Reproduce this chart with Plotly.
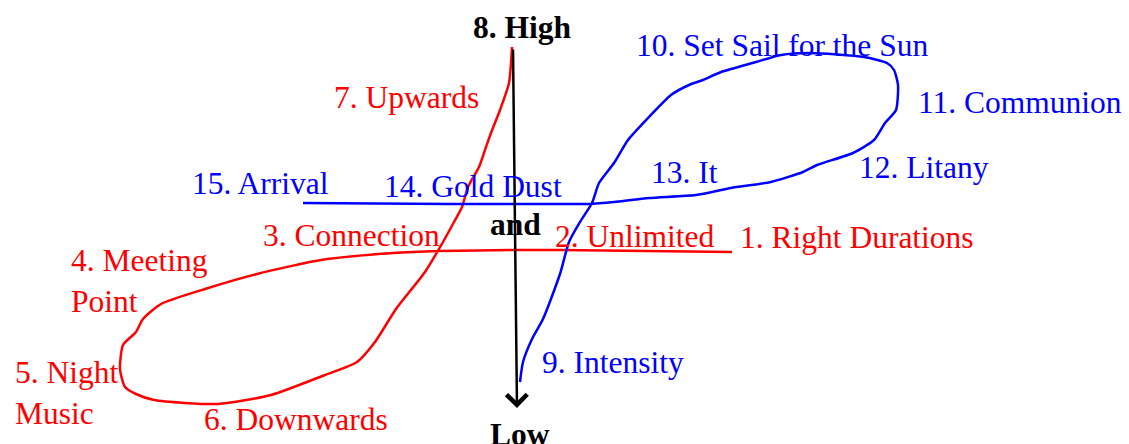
import plotly.graph_objects as go

# Canvas size of the sketch (pixels)
W, H = 1129, 444

# Red path: 1. Right Durations -> loop -> up to 8. High
red_x = [732, 560, 515, 439, 393, 321, 257, 205, 161, 143, 136, 123, 120, 125, 136, 154,
         218, 271, 325, 357, 375, 396, 425, 443, 454, 462, 468, 479, 486, 491, 500, 509, 512]
red_y = [252, 250, 250, 251, 253, 260, 274, 289, 304, 319, 332, 345, 369, 387, 394, 400,
         404, 395, 375, 362, 342, 309, 272, 242, 222, 207, 187, 167, 147, 133, 110, 83, 47]

# Blue path: 9. Intensity -> loop -> 15. Arrival
blue_x = [520, 523, 532, 543, 560, 569, 580, 592, 599, 614, 628, 649, 671, 689, 703, 721,
          756, 781, 810, 864, 887, 894, 898, 896, 885, 874, 853, 817, 803, 771, 731, 696,
          649, 614, 589, 560, 450, 303]
blue_y = [382, 362, 339, 319, 274, 242, 222, 203, 183, 163, 140, 117, 95, 85, 80, 72,
          62, 55, 53, 57, 63, 70, 85, 110, 123, 140, 153, 165, 172, 182, 188, 195,
          198, 202, 204, 204, 204, 203]

# High -> Low axis
axis_x = [513, 517]
axis_y = [48, 408]

red_labels = ["1. Right Durations", "2. Unlimited", "3. Connection", "4. Meeting<br>Point",
              "5. Night<br>Music", "6. Downwards", "7. Upwards"]
red_lx = [738, 553, 261, 69, 13, 202, 332]
red_ly = [237, 236, 235, 281, 393, 419, 97]

blue_labels = ["9. Intensity", "10. Set Sail for the Sun", "11. Communion", "12. Litany",
               "13. It", "14. Gold Dust", "15. Arrival"]
blue_lx = [540, 634, 916, 857, 649, 382, 190]
blue_ly = [362, 45, 102, 167, 172, 186, 183]

black_labels = ["8. High", "and", "Low"]
black_lx = [522, 515, 520]
black_ly = [27, 224, 434]

RED = "#ff0000"
BLUE = "#0000ff"
FONT = "Liberation Serif"
FS = 31.5

fig = go.Figure()

fig.add_trace(go.Scatter(x=red_x, y=red_y, mode="lines",
                         line=dict(color=RED, width=2.5, shape="spline", smoothing=0.6),
                         hoverinfo="skip"))
fig.add_trace(go.Scatter(x=blue_x, y=blue_y, mode="lines",
                         line=dict(color=BLUE, width=2.5, shape="spline", smoothing=0.6),
                         hoverinfo="skip"))

# vertical arrow
fig.add_annotation(x=axis_x[1], y=axis_y[1], ax=axis_x[0], ay=axis_y[0],
                   xref="x", yref="y", axref="x", ayref="y", text="",
                   showarrow=True, arrowhead=4, arrowsize=1.6, arrowwidth=2.5,
                   arrowcolor="black")

for txt, x, y in zip(red_labels, red_lx, red_ly):
    fig.add_annotation(x=x, y=y, text=txt, showarrow=False, xanchor="left", yanchor="middle",
                       align="left", font=dict(family=FONT, size=FS, color=RED))
for txt, x, y in zip(blue_labels, blue_lx, blue_ly):
    fig.add_annotation(x=x, y=y, text=txt, showarrow=False, xanchor="left", yanchor="middle",
                       align="left", font=dict(family=FONT, size=FS, color=BLUE))
for txt, x, y in zip(black_labels, black_lx, black_ly):
    fig.add_annotation(x=x, y=y, text="<b>" + txt + "</b>", showarrow=False,
                       xanchor="center", yanchor="middle",
                       font=dict(family=FONT, size=FS, color="black"))

fig.update_xaxes(range=[0, W], visible=False)
fig.update_yaxes(range=[H, 0], visible=False)
fig.update_layout(
    width=W, height=H,
    margin=dict(l=0, r=0, t=0, b=0),
    paper_bgcolor="white",
    plot_bgcolor="white",
    showlegend=False,
)

# drop the default page margin so the sketch sits flush in the window
fig.write_html("out.html",
               config={"displayModeBar": False},
               post_script="document.body.style.margin='0';document.body.style.overflow='hidden';")
